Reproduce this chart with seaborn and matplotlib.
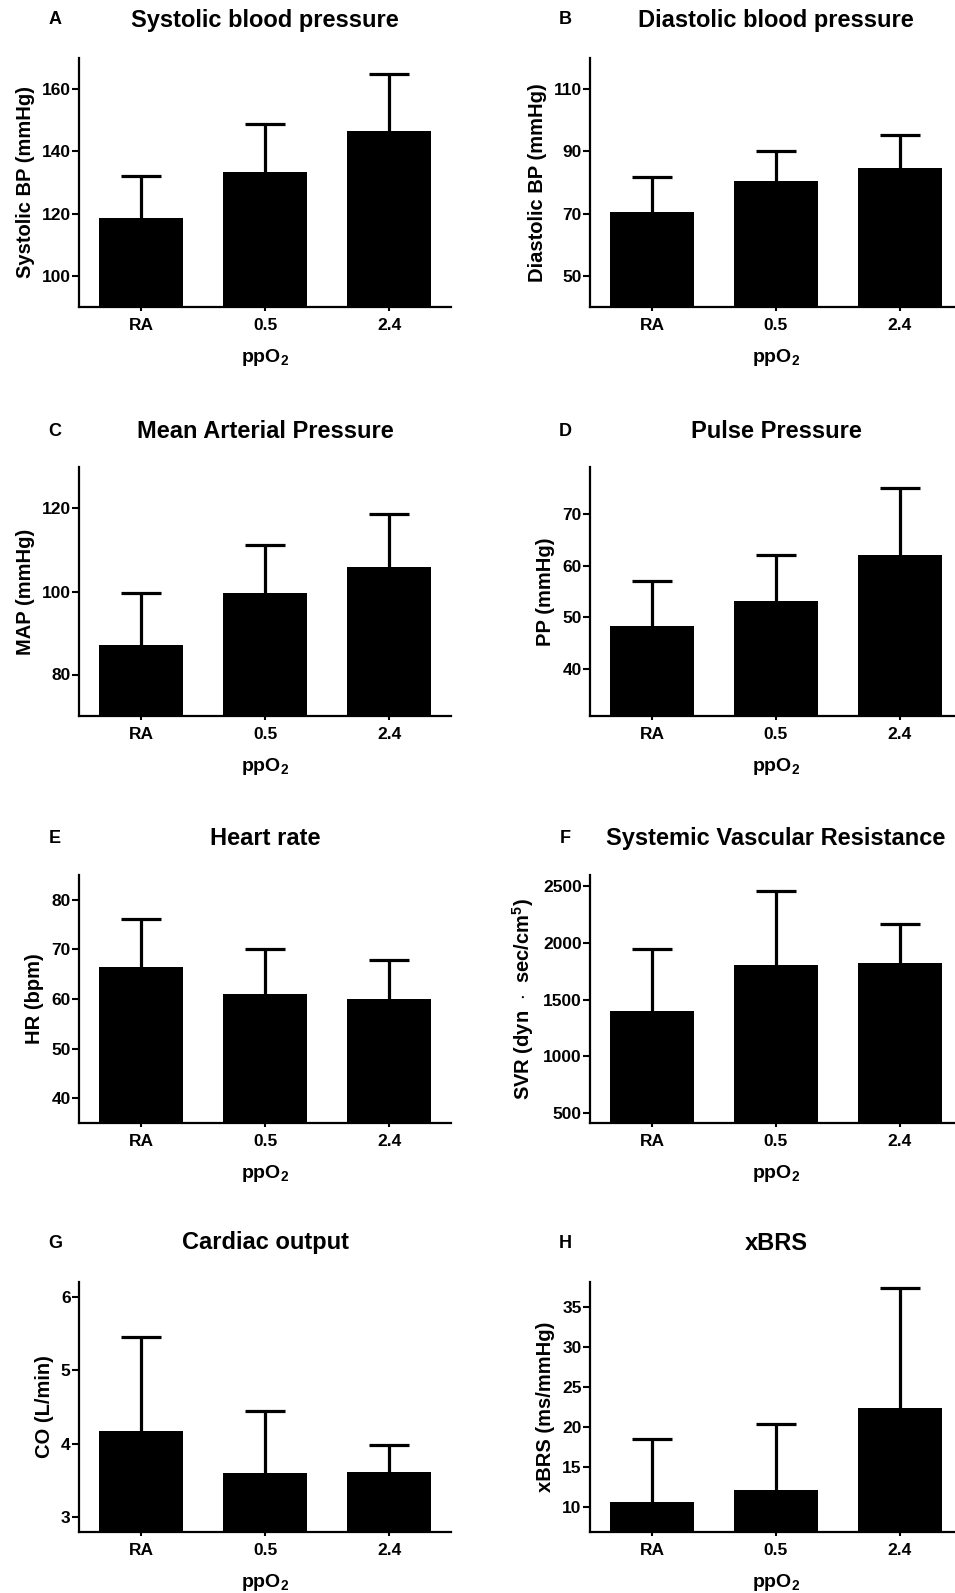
import numpy as np
import matplotlib
matplotlib.use('Agg')
import matplotlib.pyplot as plt
import seaborn as sns

sns.set_style('ticks')
plt.rcParams['font.family'] = ['Liberation Sans', 'DejaVu Sans']
plt.rcParams['font.weight'] = 'bold'
plt.rcParams['text.color'] = 'black'
plt.rcParams['axes.labelcolor'] = 'black'
plt.rcParams['axes.edgecolor'] = 'black'
plt.rcParams['xtick.color'] = 'black'
plt.rcParams['ytick.color'] = 'black'
plt.rcParams['mathtext.fontset'] = 'custom'
plt.rcParams['mathtext.rm'] = 'Liberation Sans:bold'
plt.rcParams['mathtext.bf'] = 'Liberation Sans:bold'
plt.rcParams['mathtext.default'] = 'bf'

# data (mean and upper SD)
categories = ['RA', '0.5', '2.4']

sbp_mean = [118.5, 133.5, 146.5]
sbp_sd = [13.6, 15.3, 18.2]
dbp_mean = [70.6, 80.5, 84.6]
dbp_sd = [11.3, 9.7, 10.8]
map_mean = [87.2, 99.6, 105.8]
map_sd = [12.4, 11.6, 12.9]
pp_mean = [48.4, 53.1, 62.1]
pp_sd = [8.7, 9.0, 12.9]
hr_mean = [66.5, 61.0, 60.0]
hr_sd = [9.6, 9.1, 7.8]
svr_mean = [1403, 1805, 1820]
svr_sd = [540, 651, 351]
co_mean = [4.18, 3.60, 3.62]
co_sd = [1.27, 0.84, 0.36]
xbrs_mean = [10.6, 12.2, 22.4]
xbrs_sd = [7.9, 8.2, 15.0]

panels = [
    ('A', 'Systolic blood pressure', 'Systolic BP (mmHg)', sbp_mean, sbp_sd, (90, 170), [100, 120, 140, 160]),
    ('B', 'Diastolic blood pressure', 'Diastolic BP (mmHg)', dbp_mean, dbp_sd, (40, 120), [50, 70, 90, 110]),
    ('C', 'Mean Arterial Pressure', 'MAP (mmHg)', map_mean, map_sd, (70, 130), [80, 100, 120]),
    ('D', 'Pulse Pressure', 'PP (mmHg)', pp_mean, pp_sd, (31, 79), [40, 50, 60, 70]),
    ('E', 'Heart rate', 'HR (bpm)', hr_mean, hr_sd, (35, 85), [40, 50, 60, 70, 80]),
    ('F', 'Systemic Vascular Resistance', r'SVR (dyn  $\cdot$  sec/cm$^5$)', svr_mean, svr_sd, (410, 2600), [500, 1000, 1500, 2000, 2500]),
    ('G', 'Cardiac output', 'CO (L/min)', co_mean, co_sd, (2.8, 6.2), [3, 4, 5, 6]),
    ('H', 'xBRS', 'xBRS (ms/mmHg)', xbrs_mean, xbrs_sd, (6.9, 38.1), [10, 15, 20, 25, 30, 35]),
]

W, H = 955, 1593
fig = plt.figure(figsize=(W / 100, H / 100), dpi=100)

col_left = [79, 590]
ax_w = 372
rows = [(58, 307), (467, 716), (875, 1123), (1282, 1532)]
title_y = [20, 432, 838, 1243]
letter_x = [55, 565]

for i, (letter, title, ylabel, mean, sd, ylim, yticks) in enumerate(panels):
    r, c = divmod(i, 2)
    top, bottom = rows[r]
    ax = fig.add_axes([col_left[c] / W, 1 - bottom / H, ax_w / W, (bottom - top) / H])
    sns.barplot(x=categories, y=mean, color='black', saturation=1, width=0.68,
                edgecolor='black', linewidth=0, ax=ax)
    # upper error bar only
    _, caps, _ = ax.errorbar(np.arange(len(categories)), mean, yerr=[np.zeros(len(sd)), sd],
                             fmt='none', ecolor='black', elinewidth=2.3, capsize=14.5, capthick=2.3)
    caps[0].set_visible(False)
    ax.set_ylim(*ylim)
    ax.set_yticks(yticks)
    ax.set_xlim(-0.5, 2.5)
    sns.despine(ax=ax)
    for s in ['left', 'bottom']:
        ax.spines[s].set_linewidth(1.6)
    ax.tick_params(axis='y', length=5, width=1.5, labelsize=12.5, pad=1)
    ax.tick_params(axis='x', length=3, width=1.5, labelsize=12.5, pad=5)
    for lab in ax.get_xticklabels() + ax.get_yticklabels():
        lab.set_fontweight('bold')
    ax.set_ylabel(ylabel, fontsize=14.5, fontweight='bold', labelpad=5)
    ax.set_xlabel('ppO$_2$', fontsize=14, fontweight='bold', labelpad=10)

    cx = (col_left[c] + ax_w / 2) / W
    fig.text(cx, 1 - title_y[r] / H, title, ha='center', va='center',
             fontsize=17, fontweight='bold')
    fig.text(letter_x[c] / W, 1 - title_y[r] / H, letter, ha='center', va='center',
             fontsize=13, fontweight='bold')

plt.savefig('out.png', dpi=100)
